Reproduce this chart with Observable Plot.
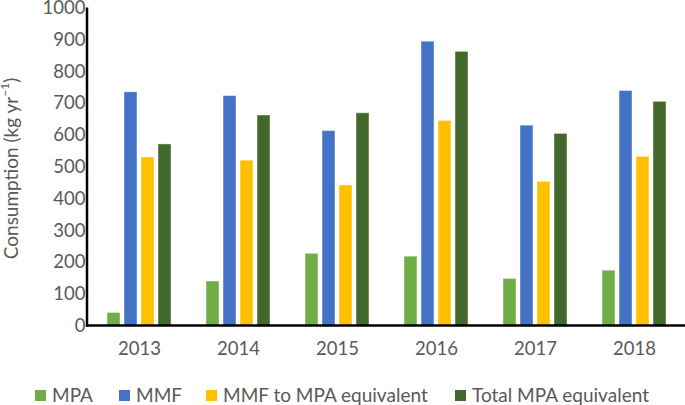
<!DOCTYPE html>
<html><head><meta charset="utf-8">
<script src="https://cdn.jsdelivr.net/npm/d3@7"></script>
<script src="https://cdn.jsdelivr.net/npm/@observablehq/plot@0.6"></script>
<style>
body{margin:0;background:#fff;font-family:Lato,sans-serif;}
#wrap{position:relative;width:685px;height:405px;overflow:hidden;}
#legend{position:absolute;top:384px;left:0;width:685px;height:22px;}
.item{position:absolute;top:0;display:flex;align-items:center;font-size:19px;line-height:22px;color:#595959;white-space:nowrap;}
.sw{width:11px;height:11px;margin-right:6px;}
</style></head><body>
<div id="wrap"><div id="chart"></div><div id="legend"></div></div>
<script>
const years = ["2013", "2014", "2015", "2016", "2017", "2018"];
const series = ["MPA", "MMF", "MMF to MPA equivalent", "Total MPA equivalent"];
const colors = ["#70AD47", "#4472C4", "#FFC000", "#43682B"];
const mpa = [41, 140, 227, 218, 148, 174];
const mmf = [735, 723, 613, 894, 630, 739];
const mmfToMpa = [530, 520, 442, 645, 453, 532];
const totalMpa = [571, 662, 669, 862, 604, 705];
const yTicks = [0, 100, 200, 300, 400, 500, 600, 700, 800, 900, 1000];
const yLabel = "Consumption (kg yr";
const yLabelSup = "−1";

const seriesValues = [mpa, mmf, mmfToMpa, totalMpa];
const data = years.flatMap((yr, i) => seriesValues.map((arr, j) => ({year: yr, series: series[j], value: arr[i]})));

const W = 685, H = 380;
const plot = Plot.plot({
  width: W, height: H,
  marginTop: 7.5, marginBottom: H - 325.5, marginLeft: 87, marginRight: 0,
  style: {fontFamily: "Lato, sans-serif", fontSize: "18.5px", color: "#595959", background: "white"},
  fx: {domain: years, range: [87, 685], paddingInner: 0.318, paddingOuter: 0.16, label: null, tickSize: 0, tickPadding: 16},
  x: {domain: series, axis: null, paddingInner: 0.22, paddingOuter: 0},
  y: {domain: [0, 1000], ticks: yTicks, tickFormat: d3.format("d"), label: null, tickSize: 0, tickPadding: 20},
  color: {domain: series, range: colors},
  marks: [
    Plot.barY(data, {fx: "year", x: "series", y: "value", fill: "series", stroke: "white", strokeOpacity: 0.45, strokeWidth: 1})
  ]
});
document.getElementById("chart").appendChild(plot);

const svg = d3.select(plot);
const ys = plot.scale("y");
const y0 = ys.apply(0), y1 = ys.apply(1000);
svg.append("line").attr("x1", 87).attr("x2", 87).attr("y1", y1).attr("y2", y0 + 1.25)
  .attr("stroke", "black").attr("stroke-width", 2.5);
svg.append("line").attr("x1", 86).attr("x2", W).attr("y1", y0).attr("y2", y0)
  .attr("stroke", "black").attr("stroke-width", 2.5);

const t = svg.append("text")
  .attr("transform", `translate(13,${(y0 + y1) / 2 + 2}) rotate(-90)`)
  .attr("text-anchor", "middle").attr("dominant-baseline", "middle")
  .attr("fill", "#595959").attr("font-family", "Lato, sans-serif").attr("font-size", 19);
t.append("tspan").text(yLabel);
t.append("tspan").attr("baseline-shift", "super").attr("font-size", 12).text(yLabelSup);
t.append("tspan").text(")");

const legendLeft = [35, 119, 206, 455];
const legend = d3.select("#legend");
series.forEach((s, i) => {
  const it = legend.append("div").attr("class", "item").style("left", legendLeft[i] + "px");
  it.append("div").attr("class", "sw").style("background", colors[i]);
  it.append("span").text(s);
});
</script>
</body></html>
